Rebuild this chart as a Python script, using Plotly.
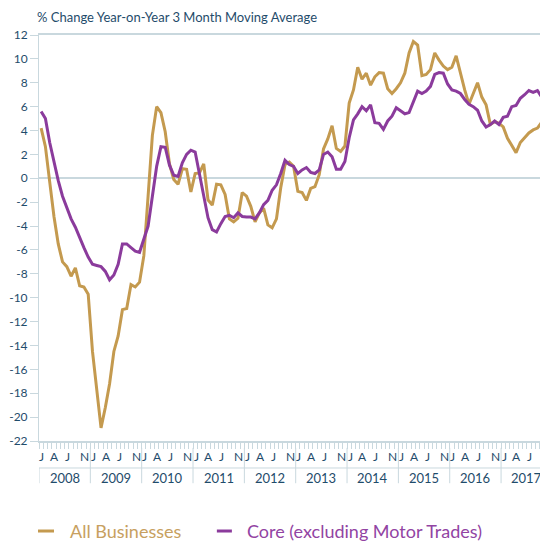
import plotly.graph_objects as go

# Monthly data, Jan 2008 onwards (month index 0 = Jan 2008)
all_businesses = [
    4.2, 2.65, -0.3, -3.2, -5.5, -7.0, -7.4, -8.2, -7.5, -9.0, -9.1, -9.7,      # 2008
    -14.5, -18.0, -20.9, -19.2, -17.2, -14.5, -13.2, -11.0, -10.9, -8.9, -9.1, -8.7,  # 2009
    -6.5, -1.5, 3.6, 6.0, 5.5, 3.9, 1.2, -0.1, -0.5, 0.8, 0.75, -1.15,         # 2010
    0.4, 0.45, 1.2, -1.8, -2.25, -0.5, -0.55, -1.35, -3.4, -3.65, -3.35, -1.2,  # 2011
    -1.5, -2.35, -3.65, -2.9, -2.5, -3.9, -4.15, -3.4, -0.8, 1.15, 1.35, 1.0,   # 2012
    -1.1, -1.2, -1.85, -0.85, -0.7, 0.3, 2.45, 3.3, 4.4, 2.5, 2.25, 2.7,        # 2013
    6.3, 7.4, 9.3, 8.3, 8.8, 7.8, 8.5, 8.85, 8.8, 7.5, 7.1, 7.5,                # 2014
    8.0, 8.8, 10.5, 11.45, 11.15, 8.6, 8.7, 9.1, 10.5, 9.9, 9.4, 9.1,           # 2015
    9.3, 10.25, 8.8, 7.4, 6.2, 7.1, 8.0, 6.8, 6.15, 4.5, 4.75, 4.6,             # 2016
    4.3, 3.35, 2.8, 2.15, 3.0, 3.4, 3.8, 4.05, 4.2, 4.7,                        # 2017
]
core = [
    5.6, 5.0, 3.0, 1.3, -0.2, -1.5, -2.5, -3.4, -4.1, -5.0, -5.8, -6.6,         # 2008
    -7.2, -7.3, -7.4, -7.8, -8.5, -8.1, -7.2, -5.5, -5.5, -5.8, -6.1, -6.2,     # 2009
    -5.1, -4.0, -1.5, 1.0, 2.65, 2.6, 1.1, 0.25, 0.15, 1.3, 2.0, 2.35,          # 2010
    2.2, 0.3, -1.6, -3.3, -4.3, -4.5, -3.8, -3.2, -3.1, -3.3, -2.9, -3.2,       # 2011
    -3.25, -3.25, -3.4, -2.9, -2.2, -1.85, -1.0, -0.55, 0.4, 1.5, 1.15, 1.0,    # 2012
    0.4, 0.7, 0.9, 0.5, 0.4, 0.7, 2.0, 2.2, 1.8, 0.75, 0.75, 1.4,               # 2013
    3.4, 4.9, 5.4, 6.0, 5.65, 6.15, 4.65, 4.6, 4.1, 4.8, 5.2, 5.9,              # 2014
    5.65, 5.4, 5.5, 6.4, 7.3, 7.1, 7.3, 7.7, 8.7, 8.85, 8.8, 7.9,               # 2015
    7.4, 7.3, 7.1, 6.6, 6.2, 6.0, 5.7, 4.8, 4.3, 4.5, 4.8, 4.5,                 # 2016
    5.1, 5.2, 6.0, 6.1, 6.7, 7.0, 7.35, 7.2, 7.35, 6.8,                         # 2017
]
years = [2008, 2009, 2010, 2011, 2012, 2013, 2014, 2015, 2016, 2017]
month_letters = ["J", "A", "J", "N"]
month_letter_offsets = [0, 3, 6, 10]
y_ticks = list(range(-22, 13, 2))
y_tick_labels = [str(v) for v in y_ticks]
series_names = ["All Businesses", "Core (excluding Motor Trades)"]

GOLD = "#c49a4f"
PURPLE = "#8b3b9c"
AXIS = "#c9d8de"
TEXT = "#1f4c6b"
FONT = "Lato"

XMAX = 116.6
months = list(range(len(all_businesses)))

fig = go.Figure()
fig.add_trace(go.Scatter(x=months, y=all_businesses, mode="lines", name=series_names[0],
                         line=dict(color=GOLD, width=3), showlegend=False))
fig.add_trace(go.Scatter(x=months, y=core, mode="lines", name=series_names[1],
                         line=dict(color=PURPLE, width=3), showlegend=False))

shapes = []
annotations = []
# year separators
for k, yr in enumerate(years):
    xb = 12 * k - 0.5
    shapes.append(dict(type="line", xref="x", yref="paper", x0=xb, x1=xb,
                       y0=-0.017 if k > 0 else -0.066, y1=-0.104,
                       line=dict(color=AXIS, width=1)))
    xc = 12 * k + 5.5
    if xc > XMAX - 3:
        xc = (12 * k - 0.5 + XMAX) / 2
    annotations.append(dict(x=xc, y=-0.091, xref="x", yref="paper", text=str(yr),
                            showarrow=False, font=dict(family=FONT, size=13, color=TEXT),
                            xanchor="center", yanchor="middle"))
    for letter, off in zip(month_letters, month_letter_offsets):
        m = 12 * k + off
        if m <= XMAX - 0.5:
            annotations.append(dict(x=m + 0.2, y=-0.039, xref="x", yref="paper", text=letter,
                                    showarrow=False, font=dict(family=FONT, size=12, color=TEXT),
                                    xanchor="center", yanchor="middle"))
# horizontal line between month and year rows
shapes.append(dict(type="line", xref="paper", yref="paper", x0=0, x1=1, y0=-0.0665, y1=-0.0665,
                   line=dict(color=AXIS, width=1)))

# custom legend
leg_y = -0.2217
for (x0, x1, xt), name, col, tcol in [((-0.002, 0.030, 0.058), series_names[0], GOLD, "#c7a060"),
                                      ((0.355, 0.385, 0.412), series_names[1], PURPLE, "#9244a3")]:
    shapes.append(dict(type="line", xref="paper", yref="paper", x0=x0, x1=x1, y0=leg_y, y1=leg_y,
                       line=dict(color=col, width=3)))
    annotations.append(dict(x=xt, y=leg_y, xref="paper", yref="paper", text=name, showarrow=False,
                            font=dict(family=FONT, size=18, color=tcol),
                            xanchor="left", yanchor="middle"))

fig.update_layout(
    width=540, height=541,
    margin=dict(l=39, r=0, t=35, b=100, autoexpand=False),
    plot_bgcolor="white", paper_bgcolor="white",
    title=dict(text="% Change Year-on-Year 3 Month Moving Average", x=37 / 540, xanchor="left",
               y=1 - 17 / 541, yanchor="middle", font=dict(family=FONT, size=13, color=TEXT)),
    shapes=shapes, annotations=annotations,
    xaxis=dict(range=[-0.5, XMAX], showgrid=False, zeroline=False, showline=True,
               linecolor=AXIS, linewidth=2, mirror=True, automargin=False,
               tickvals=[i - 0.5 for i in range(0, 118)], ticks="outside", ticklen=6,
               tickcolor=AXIS, tickwidth=1, showticklabels=False),
    yaxis=dict(range=[-22, 12], showgrid=False, zeroline=True, zerolinecolor=AXIS, zerolinewidth=2,
               showline=True, linecolor=AXIS, linewidth=1, automargin=False,
               tickvals=y_ticks, ticktext=y_tick_labels, ticks="outside", ticklen=8,
               tickcolor=AXIS, tickfont=dict(family=FONT, size=12, color=TEXT)),
)

fig.write_html("out.html", config={"displayModeBar": False},
               post_script="document.body.style.margin='0';document.body.style.overflow='hidden';")
